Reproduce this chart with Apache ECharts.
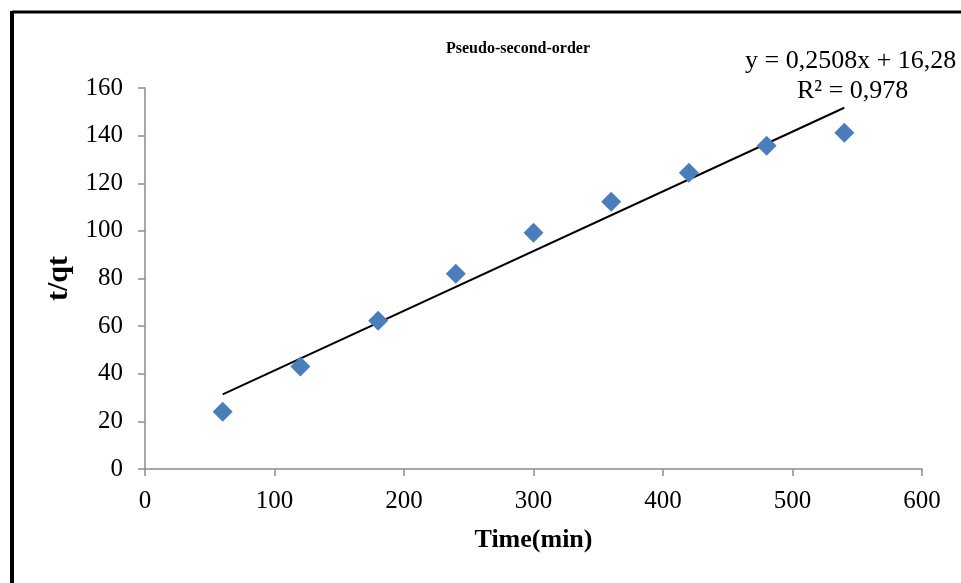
<!DOCTYPE html>
<html>
<head>
<meta charset="utf-8">
<script src="https://cdn.jsdelivr.net/npm/echarts@6/dist/echarts.min.js"></script>
<style>
  html, body { margin: 0; padding: 0; background: #fff; }
  #chart { width: 961px; height: 583px; }
</style>
</head>
<body>
<div id="chart"></div>
<script>
// Contact time (min) and t/qt values
const timeMin = [60, 120, 180, 240, 300, 360, 420, 480, 540];
const tOverQt = [24, 43, 62.3, 82, 99.2, 112.2, 124.4, 135.7, 141.2];

// Linear fit reported on the chart
const fitSlope = 0.2508;
const fitIntercept = 16.28;
const fitR2 = 0.978;
const fitRange = [60, 540];

const fmt = (v, d) => v.toFixed(d).replace('.', ',');
const fitLine = fitRange.map(x => [x, fitSlope * x + fitIntercept]);

const serif = '"Liberation Serif", "Times New Roman", serif';

const chart = echarts.init(document.getElementById('chart'));
chart.setOption({
  animation: false,
  backgroundColor: '#fff',
  title: {
    text: 'Pseudo-second-order',
    left: 513,
    top: 36,
    textAlign: 'center',
    textStyle: { fontFamily: serif, fontWeight: 'bold', fontSize: 16, color: '#000' }
  },
  grid: { left: 145, top: 88, width: 777, height: 381, containLabel: false },
  xAxis: {
    type: 'value',
    min: 0, max: 600, interval: 100,
    name: 'Time(min)',
    nameLocation: 'middle',
    nameGap: 58,
    nameTextStyle: { fontFamily: serif, fontWeight: 'bold', fontSize: 26, color: '#000' },
    axisLine: { lineStyle: { color: '#8c8c8c', width: 1.5 } },
    axisTick: { show: true, length: 7, lineStyle: { color: '#8c8c8c', width: 1.5 } },
    axisLabel: { fontFamily: serif, fontSize: 25, color: '#000', margin: 20 },
    splitLine: { show: false }
  },
  yAxis: {
    type: 'value',
    min: 0, max: 160, interval: 20,
    name: 't/qt',
    nameLocation: 'middle',
    nameGap: 66,
    nameRotate: 90,
    nameTextStyle: { fontFamily: serif, fontWeight: 'bold', fontSize: 30, color: '#000' },
    axisLine: { show: true, lineStyle: { color: '#8c8c8c', width: 1.5 } },
    axisTick: { show: true, length: 7, lineStyle: { color: '#8c8c8c', width: 1.5 } },
    axisLabel: { fontFamily: serif, fontSize: 25, color: '#000', margin: 22 },
    splitLine: { show: false }
  },
  series: [
    {
      type: 'line',
      data: fitLine,
      symbol: 'none',
      lineStyle: { color: '#000', width: 2 },
      z: 3
    },
    {
      type: 'scatter',
      data: timeMin.map((t, i) => [t, tOverQt[i]]),
      symbol: 'diamond',
      symbolSize: [20, 20],
      itemStyle: { color: '#4a7ebb', opacity: 1 },
      z: 4
    }
  ],
  graphic: [
    {
      type: 'text',
      left: 745, top: 48,
      style: {
        text: 'y = ' + fmt(fitSlope, 4) + 'x + ' + fmt(fitIntercept, 2),
        font: '26px ' + serif, fill: '#000'
      }
    },
    {
      type: 'text',
      left: 797, top: 78,
      style: {
        text: 'R² = ' + fmt(fitR2, 3),
        font: '26px ' + serif, fill: '#000'
      }
    },
    {
      type: 'line',
      shape: { x1: 12, y1: 12, x2: 961, y2: 12 },
      style: { stroke: '#000', lineWidth: 3 }
    },
    {
      type: 'line',
      shape: { x1: 12, y1: 11, x2: 12, y2: 583 },
      style: { stroke: '#000', lineWidth: 4 }
    }
  ]
});
</script>
</body>
</html>
